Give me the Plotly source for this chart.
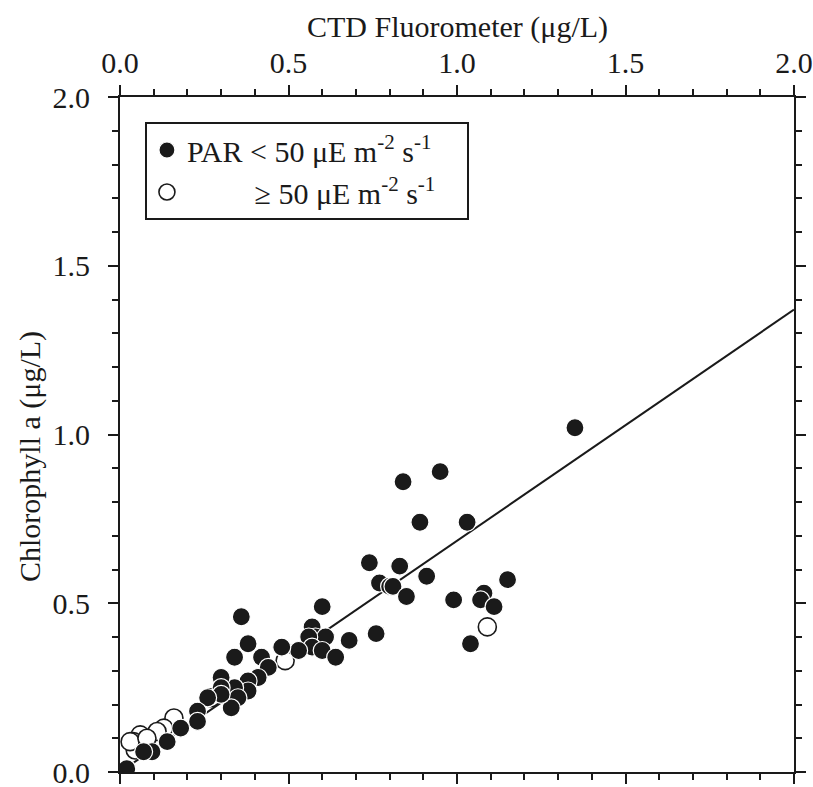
import plotly.graph_objects as go

# Filled: PAR < 50
low_x = [1.35, 0.95, 0.84, 0.89, 1.03, 0.74, 0.83, 0.77, 0.80, 0.81, 0.91, 0.85, 0.99,
         1.15, 1.08, 1.07, 1.11, 1.04, 0.76, 0.60, 0.57, 0.58, 0.61, 0.56, 0.57, 0.60,
         0.64, 0.68, 0.53, 0.48, 0.36, 0.38, 0.42, 0.34, 0.44, 0.41, 0.38, 0.38, 0.34,
         0.35, 0.33, 0.30, 0.30, 0.30, 0.26, 0.23, 0.23, 0.18, 0.14, 0.095, 0.02, 0.07]
low_y = [1.02, 0.89, 0.86, 0.74, 0.74, 0.62, 0.61, 0.56, 0.55, 0.55, 0.58, 0.52, 0.51,
         0.57, 0.53, 0.51, 0.49, 0.38, 0.41, 0.49, 0.43, 0.40, 0.40, 0.40, 0.37, 0.36,
         0.34, 0.39, 0.36, 0.37, 0.46, 0.38, 0.34, 0.34, 0.31, 0.28, 0.27, 0.24, 0.25,
         0.22, 0.19, 0.28, 0.25, 0.23, 0.22, 0.18, 0.15, 0.13, 0.09, 0.06, 0.01, 0.06]

# Open: PAR >= 50
high_x = [1.09, 0.49, 0.16, 0.13, 0.11, 0.06, 0.04, 0.05, 0.045, 0.03, 0.27, 0.08]
high_y = [0.43, 0.33, 0.16, 0.13, 0.12, 0.11, 0.09, 0.08, 0.065, 0.09, 0.22, 0.10]

# Regression line
fit_slope = 0.685
fit_x = [0.0, 2.0]
fit_y = [fit_slope * v for v in fit_x]

FONT = "Liberation Serif, Times New Roman, serif"
FS = 30
INK = "#1a1a1a"

fig = go.Figure()
fig.add_trace(go.Scatter(x=fit_x, y=fit_y, mode="lines",
                         line=dict(color=INK, width=2), showlegend=False,
                         hoverinfo="skip"))
fig.add_trace(go.Scatter(x=high_x, y=high_y, mode="markers",
                         name="\u00a0" * 9 + "\u2265 50 \u03bcE m<sup>-2</sup> s<sup>-1</sup>",
                         legendrank=2,
                         marker=dict(size=18, color="white",
                                     line=dict(color=INK, width=1.6))))
fig.add_trace(go.Scatter(x=low_x, y=low_y, mode="markers",
                         name="PAR < 50 \u03bcE m<sup>-2</sup> s<sup>-1</sup>" + "\u00a0" * 4,
                         legendrank=1,
                         marker=dict(size=18, color=INK,
                                     line=dict(color="white", width=1.2))))

axis_common = dict(
    range=[0, 2], dtick=0.5, tick0=0, tickformat=".1f",
    showline=True, linecolor=INK, linewidth=2,
    ticks="outside", ticklen=10, tickwidth=2, tickcolor=INK,
    mirror="allticks", showgrid=False, zeroline=False,
    ticklabeloverflow="allow",
    minor=dict(dtick=0.1, ticks="outside", ticklen=6, tickwidth=2, tickcolor=INK,
               showgrid=False),
    tickfont=dict(family=FONT, size=FS, color=INK),
)

fig.update_xaxes(side="top", **axis_common)
fig.update_yaxes(ticklabelstandoff=12, **axis_common)

fig.update_layout(
    width=813, height=787,
    margin=dict(l=120, r=19, t=97, b=15, autoexpand=False),
    paper_bgcolor="white", plot_bgcolor="white",
    font=dict(family=FONT, size=FS, color=INK),
    legend=dict(x=0.037, y=0.963, xanchor="left", yanchor="top",
                bordercolor=INK, borderwidth=2, bgcolor="white",
                font=dict(family=FONT, size=FS, color=INK),
                tracegroupgap=0, itemsizing="trace"),
    annotations=[
        dict(text="CTD Fluorometer (\u03bcg/L)", xref="paper", yref="paper",
             x=0.5, y=(772 - 27) / 675, xanchor="center", yanchor="middle",
             showarrow=False, font=dict(family=FONT, size=FS, color=INK)),
        dict(text="Chlorophyll a (\u03bcg/L)", xref="paper", yref="paper",
             x=(30 - 120) / 674, y=(772 - 457) / 675, xanchor="center", yanchor="middle",
             textangle=-90, showarrow=False,
             font=dict(family=FONT, size=FS, color=INK)),
    ],
)

fig.write_html("out.html")
